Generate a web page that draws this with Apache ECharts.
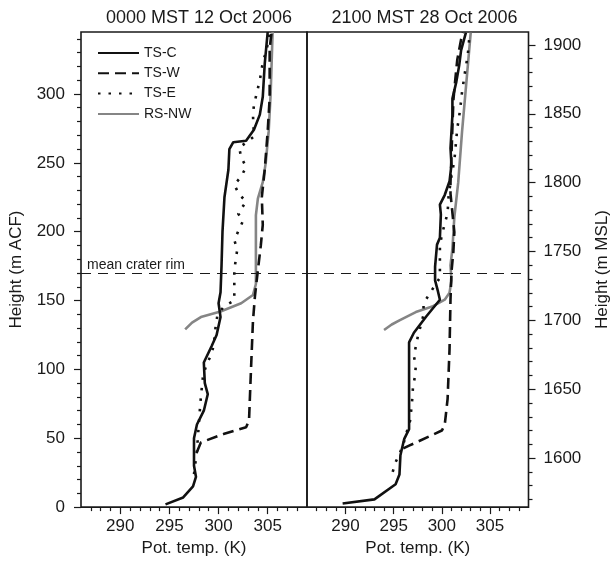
<!DOCTYPE html>
<html>
<head>
<meta charset="utf-8">
<script src="https://cdn.jsdelivr.net/npm/echarts@6/dist/echarts.min.js"></script>
<style>
html,body{margin:0;padding:0;background:#fff;}
#chart{width:612px;height:562px;}
</style>
</head>
<body>
<div id="chart"></div>
<script>
// ---------- data (x = potential temperature K, y = height) ----------
// Left panel: 0000 MST 12 Oct 2006, heights in m ACF
const leftTSC = [[294.6,2],[296.4,7],[297.4,15],[297.7,22],[297.5,30],[297.5,50],[297.8,60],[298.5,70],[298.9,82],[298.6,90],[298.5,105],[299.3,117],[299.8,125],[300.2,138],[300.0,148],[300.2,156],[300.3,175],[300.4,200],[300.6,225],[301.0,245],[301.1,260],[301.5,265],[302.8,266],[303.6,274],[304.2,285],[304.5,298],[304.7,322],[305.0,345]];
const leftTSW = [[297.8,40],[298.2,47],[300.5,53],[302.8,58],[303.1,63],[303.3,100],[303.5,135],[303.7,153],[304.0,172],[304.3,190],[304.5,205],[304.4,225],[304.7,245],[305.0,273],[305.2,297],[305.2,333],[305.4,345]];
const leftTSE = [[297.5,24],[297.8,41],[298.0,61],[298.1,71],[298.2,80],[298.4,94],[298.7,102],[299.2,110],[299.5,117],[299.7,131],[299.9,140],[300.6,146],[301.6,150],[301.6,165],[301.6,172],[301.9,187],[301.6,194],[302.5,208],[302.0,213],[302.8,222],[302.1,227],[301.6,234],[302.3,240],[302.8,247],[302.3,254],[302.1,261],[303.6,269],[303.5,285],[303.6,292],[304.2,310],[304.5,323],[304.8,330],[305.0,336],[305.2,345]];
const leftRSNW = [[296.6,129],[297.3,134],[298.2,138],[300.2,142],[302.3,148],[303.5,154],[303.8,162],[303.8,175],[303.8,212],[304.0,224],[304.5,236],[304.8,250],[305.1,273],[305.3,300],[305.5,345]];
// Right panel: 2100 MST 28 Oct 2006, heights in m MSL
const rightTSC = [[289.7,1567],[293.0,1570],[295.2,1581],[295.6,1588],[295.7,1602],[296.1,1614],[296.6,1621],[296.6,1684],[297.1,1691],[298.4,1703],[299.8,1715],[299.6,1721],[299.3,1729],[299.3,1739],[299.5,1755],[299.8,1760],[299.9,1777],[299.8,1784],[300.3,1791],[300.8,1801],[301.0,1813],[300.9,1825],[301.0,1837],[301.1,1849],[301.1,1861],[301.5,1873],[301.8,1885],[302.0,1896],[302.5,1909]];
const rightTSW = [[296.0,1607],[296.6,1609],[300.0,1620],[300.3,1624],[300.6,1643],[300.8,1679],[300.9,1715],[301.0,1735],[301.2,1750],[301.3,1764],[300.9,1792],[300.9,1800],[301.0,1820],[301.1,1840],[301.2,1860],[301.4,1875],[301.6,1889],[302.0,1904],[302.2,1909]];
const rightTSE = [[294.9,1590],[295.2,1597],[295.6,1603],[296.0,1610],[296.4,1620],[296.7,1627],[296.9,1640],[297.0,1651],[297.2,1659],[297.3,1667],[297.1,1674],[297.5,1688],[297.8,1696],[298.1,1704],[298.1,1712],[298.6,1718],[299.8,1731],[299.8,1754],[300.0,1762],[300.3,1770],[300.6,1778],[300.7,1790],[301.0,1805],[301.3,1816],[301.6,1839],[301.9,1853],[302.1,1866],[302.4,1880],[302.7,1893],[302.9,1909]];
const rightRSNW = [[294.0,1693],[294.8,1697],[295.6,1700],[297.3,1706],[299.0,1710],[300.3,1715],[300.8,1720],[301.0,1729],[300.9,1740],[301.1,1752],[301.3,1775],[301.7,1800],[302.1,1837],[302.7,1885],[303.0,1909]];

const seriesNames = ['TS-C','TS-W','TS-E','RS-NW'];
const panelTitles = ['0000 MST 12 Oct 2006','2100 MST 28 Oct 2006'];
const xTickLabels = [290,295,300,305];
const leftYTickLabels = [0,50,100,150,200,250,300];
const rightYTickLabels = [1600,1650,1700,1750,1800,1850,1900];
const rimHeightACF = 170;
const mslOffset = 1564.4;
const xMin = 286, xMax = 309;
const yMaxACF = 345;

// ---------- minor tick positions ----------
function minorTicks(a, b, step, majorStep) {
  const out = [];
  for (let v = a; v <= b + 1e-9; v += step) {
    if (Math.abs(v % majorStep) > 1e-6) out.push(v);
  }
  return out;
}
const xMinor = minorTicks(287, 308, 1, 5);
const leftYMinor = minorTicks(10, 340, 10, 50);
const rightYMinor = minorTicks(1570, 1900, 10, 50);

const INK = '#1a1a1a';
const FONT = 'Liberation Sans, Arial, sans-serif';
const tickStyle = {color: INK, width: 1.2};
const plain = function (v) { return String(v); };

function xAxes(g) {
  return [
    {type:'value', gridIndex:g, min:xMin, max:xMax, position:'bottom',
     axisLine:{show:false}, splitLine:{show:false},
     axisTick:{show:true, customValues:xTickLabels, length:7, lineStyle:tickStyle},
     axisLabel:{customValues:xTickLabels, formatter:plain, margin:11, fontSize:17, color:INK, fontFamily:FONT},
     name:'Pot. temp. (K)', nameLocation:'middle', nameGap:41,
     nameTextStyle:{fontSize:17, color:INK, fontFamily:FONT, verticalAlign:'middle', align:'center'}},
    {type:'value', gridIndex:g, min:xMin, max:xMax, position:'bottom',
     axisLine:{show:false}, splitLine:{show:false}, axisLabel:{show:false},
     axisTick:{show:true, customValues:xMinor, length:4, lineStyle:tickStyle}}
  ];
}

const dashType = [11, 6];
const dotType = [2.5, 8];
function makeSeries(g, data, name, extra) {
  const base = {
    name: name, type:'line', xAxisIndex: g*2, yAxisIndex: g*2, data: data,
    symbol:'none', showSymbol:false, smooth:false, animation:false, clip:true, z:3
  };
  if (name === 'TS-C') base.lineStyle = {color:'#111', width:2.6};
  if (name === 'TS-W') base.lineStyle = {color:'#111', width:2.6, type:dashType};
  if (name === 'TS-E') base.lineStyle = {color:'#111', width:2.6, type:dotType, cap:'butt'};
  if (name === 'RS-NW') { base.lineStyle = {color:'#858585', width:2.6}; base.z = 2; }
  base.itemStyle = {color: base.lineStyle.color};
  return Object.assign(base, extra || {});
}

const rimLine = function(yVal, withLabel) {
  return {
    symbol:['none','none'], silent:true, animation:false,
    lineStyle:{type:[10,7], color:INK, width:1.2},
    label: withLabel ? {show:true, formatter:'mean crater rim', position:'insideStartTop',
      distance:[6,1], fontSize:14, color:INK, fontFamily:FONT} : {show:false},
    data:[{yAxis:yVal}]
  };
};

const option = {
  backgroundColor:'#fff',
  animation:false,
  textStyle:{fontFamily:FONT},
  title:[
    {text:panelTitles[0], left:194, top:4, textAlign:'center',
     textStyle:{fontSize:18, fontWeight:'normal', color:INK, fontFamily:FONT}},
    {text:panelTitles[1], left:419.5, top:4, textAlign:'center',
     textStyle:{fontSize:18, fontWeight:'normal', color:INK, fontFamily:FONT}}
  ],
  legend:{
    data:seriesNames, orient:'vertical', left:97, top:46, padding:0,
    itemWidth:41, itemHeight:14, itemGap:6.3,
    itemStyle:{opacity:0, borderWidth:0},
    textStyle:{fontSize:14, color:INK, fontFamily:FONT}
  },
  grid:[
    {left:81, top:32, width:226, height:480, show:true, borderColor:INK, borderWidth:1.6, backgroundColor:'transparent'},
    {left:307, top:32, width:225, height:480, show:true, borderColor:INK, borderWidth:1.6, backgroundColor:'transparent'}
  ],
  xAxis: xAxes(0).concat(xAxes(1)),
  yAxis:[
    {type:'value', gridIndex:0, min:0, max:yMaxACF, position:'left',
     axisLine:{show:false}, splitLine:{show:false},
     axisTick:{show:true, customValues:leftYTickLabels, length:7, lineStyle:tickStyle},
     axisLabel:{customValues:leftYTickLabels, formatter:plain, margin:16, fontSize:17, color:INK, fontFamily:FONT},
     name:'Height (m ACF)', nameLocation:'middle', nameGap:65, nameRotate:90,
     nameTextStyle:{fontSize:17, color:INK, fontFamily:FONT, verticalAlign:'middle', align:'center'}},
    {type:'value', gridIndex:0, min:0, max:yMaxACF, position:'left',
     axisLine:{show:false}, splitLine:{show:false}, axisLabel:{show:false},
     axisTick:{show:true, customValues:leftYMinor, length:4, lineStyle:tickStyle}},
    {type:'value', gridIndex:1, min:mslOffset, max:mslOffset+yMaxACF, position:'right',
     axisLine:{show:false}, splitLine:{show:false},
     axisTick:{show:true, customValues:rightYTickLabels, length:7, lineStyle:tickStyle},
     axisLabel:{customValues:rightYTickLabels, formatter:plain, margin:15, fontSize:17, color:INK, fontFamily:FONT},
     name:'Height (m MSL)', nameLocation:'middle', nameGap:74, nameRotate:90,
     nameTextStyle:{fontSize:17, color:INK, fontFamily:FONT, verticalAlign:'middle', align:'center'}},
    {type:'value', gridIndex:1, min:mslOffset, max:mslOffset+yMaxACF, position:'right',
     axisLine:{show:false}, splitLine:{show:false}, axisLabel:{show:false},
     axisTick:{show:true, customValues:rightYMinor, length:4, lineStyle:tickStyle}}
  ],
  series:[
    makeSeries(0, leftTSC, 'TS-C', {markLine: rimLine(rimHeightACF, true)}),
    makeSeries(0, leftTSW, 'TS-W'),
    makeSeries(0, leftTSE, 'TS-E'),
    makeSeries(0, leftRSNW, 'RS-NW'),
    makeSeries(1, rightTSC, 'TS-C', {markLine: rimLine(mslOffset + rimHeightACF, false)}),
    makeSeries(1, rightTSW, 'TS-W'),
    makeSeries(1, rightTSE, 'TS-E'),
    makeSeries(1, rightRSNW, 'RS-NW')
  ]
};

const chart = echarts.init(document.getElementById('chart'), null, {renderer:'canvas'});
chart.setOption(option);
</script>
</body>
</html>
